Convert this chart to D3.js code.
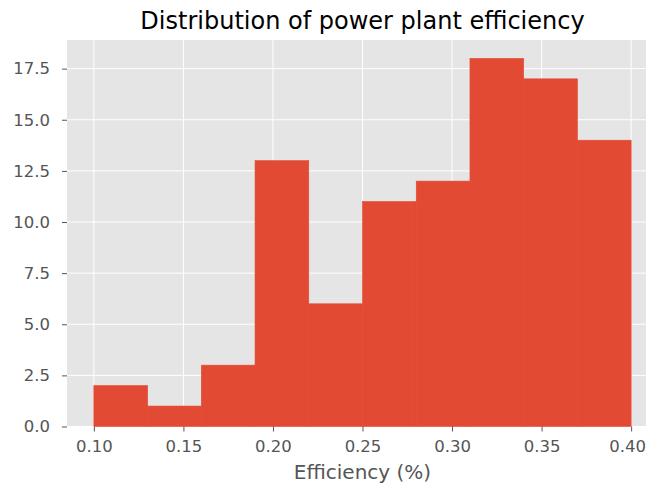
<!DOCTYPE html>
<html><head><meta charset="utf-8">
<script src="https://cdn.jsdelivr.net/npm/d3@7"></script>
<style>body{margin:0;background:#fff}svg{display:block}text{font-family:"DejaVu Sans",sans-serif}</style>
</head><body>
<svg id="c" width="646" height="486"></svg>
<script>
const binEdges = [0.10,0.13,0.16,0.19,0.22,0.25,0.28,0.31,0.34,0.37,0.40];
const counts = [2,1,3,13,6,11,12,18,17,14];
const xTicks = [0.10,0.15,0.20,0.25,0.30,0.35,0.40];
const yTicks = [0,2.5,5,7.5,10,12.5,15,17.5];
const title = "Distribution of power plant efficiency";
const xLabel = "Efficiency (%)";

const svg = d3.select("#c");
const L=67, R=658, T=40, B=426.5;
const x = d3.scaleLinear().domain([0.085,0.415]).range([L,R]);
const y = d3.scaleLinear().domain([0,18.9]).range([B,T]);

svg.append("rect").attr("x",L).attr("y",T).attr("width",R-L).attr("height",B-T).attr("fill","#E5E5E5");

const g = svg.append("g");
g.selectAll(".gx").data(xTicks).join("line")
 .attr("x1",d=>x(d)).attr("x2",d=>x(d)).attr("y1",T).attr("y2",B)
 .attr("stroke","#fff").attr("stroke-width",1);
g.selectAll(".gy").data(yTicks).join("line")
 .attr("y1",d=>y(d)).attr("y2",d=>y(d)).attr("x1",L).attr("x2",R)
 .attr("stroke","#fff").attr("stroke-width",1);

svg.append("g").selectAll("rect").data(counts).join("rect")
 .attr("x",(d,i)=>x(binEdges[i])).attr("width",(d,i)=>x(binEdges[i+1])-x(binEdges[i]))
 .attr("y",d=>y(d)).attr("height",d=>y(0)-y(d)).attr("fill","#E24A33")
 .attr("stroke","#E24A33").attr("stroke-width",0.6);

const xa = svg.append("g").attr("transform",`translate(0,${B})`)
 .call(d3.axisBottom(x).tickValues(xTicks).tickFormat(d3.format(".2f")).tickSize(5).tickPadding(8.5));
const ya = svg.append("g").attr("transform",`translate(${L},0)`)
 .call(d3.axisLeft(y).tickValues(yTicks).tickFormat(d3.format(".1f")).tickSize(5).tickPadding(12));
[xa,ya].forEach(a=>{
  a.select(".domain").remove();
  a.selectAll("line").attr("stroke","#555555");
  a.selectAll("text").attr("fill","#555555").style("font-size","16.5px").style("font-family","DejaVu Sans");
});
xa.selectAll(".tick text").filter(d=>d===xTicks[xTicks.length-1]).attr("dx","-4");

svg.append("text").attr("x",(L+R)/2).attr("y",29.3).attr("text-anchor","middle")
 .style("font-size","24px").attr("fill","#000").text(title);
svg.append("text").attr("x",(L+R)/2).attr("y",479.3).attr("text-anchor","middle")
 .style("font-size","20px").attr("fill","#555555").text(xLabel);
</script>
</body></html>
